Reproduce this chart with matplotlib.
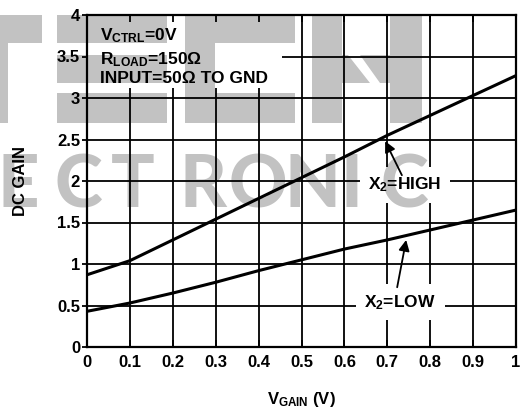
import matplotlib
matplotlib.use('Agg')
import numpy as np
import matplotlib.pyplot as plt
from matplotlib.patches import Rectangle, Polygon
from matplotlib.transforms import Affine2D

# Curvas de ganancia DC frente a V_GAIN
v_gain = [0.0, 0.1, 0.2, 0.3, 0.4, 0.5, 0.6, 0.7, 0.8, 0.9, 1.0]
gain_high = [0.87, 1.04, 1.29, 1.54, 1.79, 2.04, 2.29, 2.55, 2.79, 3.03, 3.27]
gain_low = [0.43, 0.53, 0.65, 0.78, 0.92, 1.05, 1.18, 1.29, 1.41, 1.53, 1.65]

x_ticks = [0.0, 0.1, 0.2, 0.3, 0.4, 0.5, 0.6, 0.7, 0.8, 0.9, 1.0]
x_tick_labels = ['0', '0.1', '0.2', '0.3', '0.4', '0.5', '0.6', '0.7', '0.8', '0.9', '1']
y_ticks = [0, 0.5, 1, 1.5, 2, 2.5, 3, 3.5, 4]
y_tick_labels = ['0', '0.5', '1', '1.5', '2', '2.5', '3', '3.5', '4']

condiciones = [r'V$_{\mathregular{CTRL}}$=0V',
               r'R$_{\mathregular{LOAD}}$=150Ω',
               'INPUT=50Ω TO GND']

plt.rcParams['font.family'] = ['Liberation Sans', 'DejaVu Sans']
plt.rcParams['font.weight'] = 'bold'
plt.rcParams['axes.labelweight'] = 'bold'
plt.rcParams['mathtext.fontset'] = 'custom'
plt.rcParams['mathtext.rm'] = 'Liberation Sans:bold'
plt.rcParams['mathtext.bf'] = 'Liberation Sans:bold'
plt.rcParams['mathtext.it'] = 'Liberation Sans:bold'

W, H = 527, 412
fig = plt.figure(figsize=(W / 100, H / 100), dpi=100)
ax = fig.add_axes([87 / W, 1 - 347 / H, 429 / W, 332 / H])
ax.set_xlim(0, 1)
ax.set_ylim(0, 4)
ax.patch.set_alpha(0)

# Rejilla dibujada a mano para poder taparla con cajas blancas
for xv in x_ticks[1:-1]:
    ax.axvline(xv, color='black', lw=1.3, zorder=1)
for yv in y_ticks[1:-1]:
    ax.axhline(yv, color='black', lw=1.3, zorder=1)

ax.plot(v_gain, gain_high, color='black', lw=2.2, zorder=1.5)
ax.plot(v_gain, gain_low, color='black', lw=2.2, zorder=1.5)

# Caja con las condiciones de medida
ax.add_patch(Rectangle((0, 3.12), 0.455, 0.88, facecolor='white', edgecolor='none', zorder=1.8))
for texto, yb in zip(condiciones, [3.70, 3.41, 3.18]):
    ax.text(0.03, yb, texto, fontsize=12.5, va='baseline', ha='left', zorder=3)

caja = dict(boxstyle='square,pad=0.5', facecolor='white', edgecolor='none')
ax.text(0.741, 1.95, r'X$_{\mathregular{2}}$=HIGH', fontsize=12.5, ha='center', va='center',
        bbox=caja, zorder=2)
ax.text(0.73, 0.54, r'X$_{\mathregular{2}}$=LOW', fontsize=12.5, ha='center', va='center',
        bbox=caja, zorder=2)

flecha = dict(arrowstyle='-|>', color='black', lw=1.3, mutation_scale=16, shrinkA=0, shrinkB=0)
ax.annotate('', xy=(0.695, 2.48), xytext=(0.734, 2.07), arrowprops=flecha, zorder=2.1)
ax.annotate('', xy=(0.744, 1.29), xytext=(0.723, 0.72), arrowprops=flecha, zorder=2.1)

ax.set_axisbelow(False)
ax.set_xticks(x_ticks)
ax.set_xticklabels(x_tick_labels)
ax.set_yticks(y_ticks)
ax.set_yticklabels(y_tick_labels)
ax.tick_params(axis='x', direction='in', top=True, length=5, width=1.3, pad=6, labelsize=12)
ax.tick_params(axis='y', direction='out', length=3.5, width=1.3, pad=1.5, labelsize=12)
for s in ax.spines.values():
    s.set_linewidth(1.6)

ax.set_ylabel('DC GAIN', fontsize=12, fontweight='bold')
ax.yaxis.set_label_coords(-0.1375, 0.5)
ax.set_xlabel(r'V$_{\mathregular{GAIN}}$ (V)', fontsize=12, fontweight='bold')
ax.xaxis.set_label_coords(0.5, -0.13)

# Marca de agua gris (tinta negra semitransparente, por encima de todo)
px = Affine2D().scale(1 / W, -1 / H).translate(0, 1) + fig.transFigure
gris = dict(facecolor='black', edgecolor='none', alpha=0.24, transform=px, zorder=10)
bloques = [(0, 15, 42, 43), (0, 43, 8, 123),
           (57, 15, 167, 43), (57, 55, 167, 83), (57, 93, 167, 123),
           (185, 15, 295, 43), (185, 43, 215, 93), (185, 93, 295, 123),
           (312, 15, 342, 123), (390, 15, 422, 123)]
for x0, y0, x1, y1 in bloques:
    fig.add_artist(Rectangle((x0, y0), x1 - x0, y1 - y0, **gris))
fig.add_artist(Polygon([(342, 55), (348, 55), (370, 83), (342, 83)], **gris))
fig.add_artist(Polygon([(360, 55), (390, 55), (390, 83), (380, 83)], **gris))

letras = ['E', 'C', 'T', 'R', 'O', 'N', 'I', 'C']
centros = [18, 78, 133, 203, 258, 312, 351, 404]
for ch, xc in zip(letras, centros):
    fig.text(xc / W, 1 - 207 / H, ch, ha='center', va='baseline', fontsize=52,
             family=['Lato', 'DejaVu Sans'], weight='black',
             color='black', alpha=0.24, zorder=10)

fig.savefig('out.png', dpi=100, facecolor='white')
